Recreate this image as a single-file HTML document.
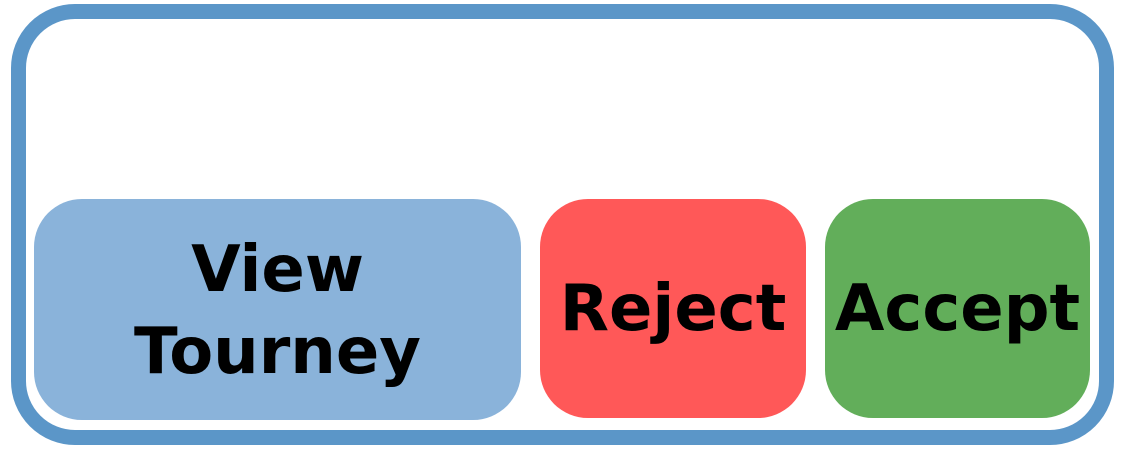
<!DOCTYPE html>
<html><head><meta charset="utf-8"><style>
html,body{margin:0;padding:0;background:#fff;}
body{width:1125px;height:450px;position:relative;overflow:hidden;font-family:"DejaVu Sans","Liberation Sans",sans-serif;font-weight:bold;}
.frame{position:absolute;left:11px;top:4px;width:1103px;height:441px;box-sizing:border-box;border:15px solid #5b96c8;border-radius:64px;}
.b{position:absolute;top:199px;height:219px;border-radius:48px;display:flex;align-items:center;justify-content:center;text-align:center;color:#000;font-size:64px;line-height:82px;}
</style></head><body>
<div class="frame"></div>
<div class="b" style="left:34px;width:487px;background:#8ab3da;padding-top:2px;">View<br>Tourney</div>
<div class="b" style="left:540px;width:266px;background:#ff5858;">Reject</div>
<div class="b" style="left:825px;width:265px;background:#62ae5a;">Accept</div>
</body></html>
